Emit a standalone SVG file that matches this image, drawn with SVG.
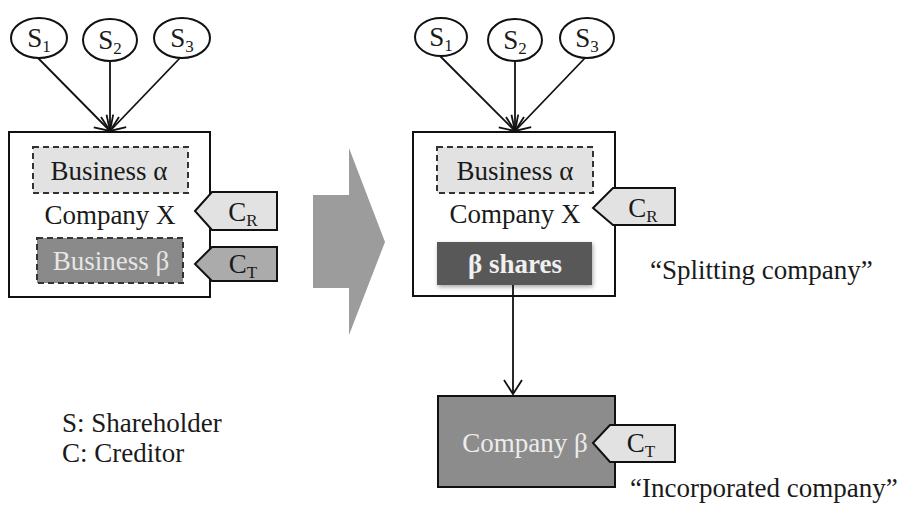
<svg xmlns="http://www.w3.org/2000/svg" width="903" height="512" viewBox="0 0 903 512">
<defs>
<style>
text{font-family:'Liberation Serif','Times New Roman','DejaVu Serif',serif;font-size:27px;fill:#1a1a1a}
.mid{text-anchor:middle}
.sub{font-size:17px}
.ell{fill:#fff;stroke:#111;stroke-width:2}
.box{fill:#fff;stroke:#111;stroke-width:2}
.dash{stroke:#333;stroke-width:2;stroke-dasharray:6 4}
.tag{stroke:#111;stroke-width:2}
.conn{fill:none;stroke:#111;stroke-width:1.8;marker-end:url(#arr)}
</style>
<marker id="arr" markerUnits="userSpaceOnUse" markerWidth="30" markerHeight="30" viewBox="-15 -15 30 30" refX="0" refY="0" orient="auto">
<path d="M-14,-9 L0,0 L-14,9" fill="none" stroke="#111" stroke-width="1.8"/>
</marker>
<filter id="sh" x="-10%" y="-20%" width="125%" height="150%">
<feDropShadow dx="1" dy="2" stdDeviation="2" flood-color="#000" flood-opacity="0.35"/>
</filter>
</defs>
<rect width="903" height="512" fill="#fff"/>
<g font-family="'Liberation Serif','Times New Roman','DejaVu Serif',serif">

<!-- Left side -->
<g id="left-companyX">
<rect class="box" x="9" y="132" width="201" height="165"/>
<text class="mid" x="110" y="224">Company X</text>
</g>
<g id="left-business-alpha">
<rect class="dash" x="33" y="147" width="155" height="46" fill="#e2e2e2"/>
<text class="mid" x="109" y="180">Business α</text>
</g>
<g id="left-business-beta">
<rect class="dash" x="37" y="238" width="146" height="45" fill="#8a8a8a"/>
<text class="mid" x="111" y="270" style="fill:#e6e6e6">Business β</text>
</g>
<g id="left-S1">
<ellipse class="ell" cx="39" cy="38" rx="28" ry="20"/>
<text class="mid" x="39" y="47">S<tspan class="sub" dy="5">1</tspan></text>
</g>
<g id="left-S2">
<ellipse class="ell" cx="110" cy="40" rx="27" ry="21"/>
<text class="mid" x="110" y="49">S<tspan class="sub" dy="5">2</tspan></text>
</g>
<g id="left-S3">
<ellipse class="ell" cx="182" cy="38" rx="28" ry="20"/>
<text class="mid" x="182" y="47">S<tspan class="sub" dy="5">3</tspan></text>
</g>
<g id="left-CR">
<path class="tag" d="M195,211 L212,192 L277,192 L277,230 L212,230 Z" fill="#e2e2e2"/>
<text class="mid" x="243" y="221">C<tspan class="sub" dy="5">R</tspan></text>
</g>
<g id="left-CT">
<path class="tag" d="M195,264 L212,247 L277,247 L277,281 L212,281 Z" fill="#ababab"/>
<text class="mid" x="243" y="273">C<tspan class="sub" dy="5">T</tspan></text>
</g>

<!-- Transition arrow -->
<g id="big-arrow">
<path d="M313,195 L349,195 L349,148 L385,242 L349,335 L349,288 L313,288 Z" fill="#9c9c9c"/>
</g>

<!-- Right side -->
<g id="right-companyX">
<rect class="box" x="413" y="132" width="202" height="164"/>
<text class="mid" x="515" y="223">Company X</text>
</g>
<g id="right-business-alpha">
<rect class="dash" x="437" y="147" width="156" height="46" fill="#e2e2e2"/>
<text class="mid" x="515" y="180">Business α</text>
</g>
<g id="right-beta-shares">
<rect x="437" y="242" width="155" height="43" fill="#585858" filter="url(#sh)"/>
<text class="mid" x="515" y="273" style="fill:#f0f0f0;font-weight:bold">β shares</text>
</g>
<g id="right-S1">
<ellipse class="ell" cx="441" cy="37" rx="26" ry="19"/>
<text class="mid" x="441" y="46">S<tspan class="sub" dy="5">1</tspan></text>
</g>
<g id="right-S2">
<ellipse class="ell" cx="515" cy="40" rx="27" ry="21"/>
<text class="mid" x="515" y="49">S<tspan class="sub" dy="5">2</tspan></text>
</g>
<g id="right-S3">
<ellipse class="ell" cx="587" cy="38" rx="27" ry="20"/>
<text class="mid" x="587" y="47">S<tspan class="sub" dy="5">3</tspan></text>
</g>
<g id="right-CR">
<path class="tag" d="M593,208 L613,188 L675,188 L675,225 L613,225 Z" fill="#e2e2e2"/>
<text class="mid" x="643" y="217">C<tspan class="sub" dy="5">R</tspan></text>
</g>
<g id="company-beta">
<rect x="438" y="396" width="177" height="91" fill="#8c8c8c" stroke="#111" stroke-width="2"/>
<text class="mid" x="525" y="452" style="fill:#ececec">Company β</text>
</g>
<g id="right-CT">
<path class="tag" d="M593,443 L610,425 L675,425 L675,462 L610,462 Z" fill="#e2e2e2"/>
<text class="mid" x="641" y="452">C<tspan class="sub" dy="5">T</tspan></text>
</g>

<!-- Labels -->
<g id="labels">
<text x="650" y="279">“Splitting company”</text>
<text x="630" y="497">“Incorporated company”</text>
<text x="62" y="432">S: Shareholder</text>
<text x="62" y="462">C: Creditor</text>
</g>

<!-- Connectors -->
<g id="connectors">
<line class="conn" x1="38" y1="58" x2="110" y2="131"/>
<line class="conn" x1="110" y1="61" x2="110" y2="131"/>
<line class="conn" x1="180" y1="58" x2="110" y2="131"/>
<line class="conn" x1="440" y1="56" x2="515" y2="131"/>
<line class="conn" x1="515" y1="61" x2="515" y2="131"/>
<line class="conn" x1="585" y1="58" x2="515" y2="131"/>
<line class="conn" x1="513" y1="285" x2="513" y2="394"/>
</g>
</g>
</svg>
